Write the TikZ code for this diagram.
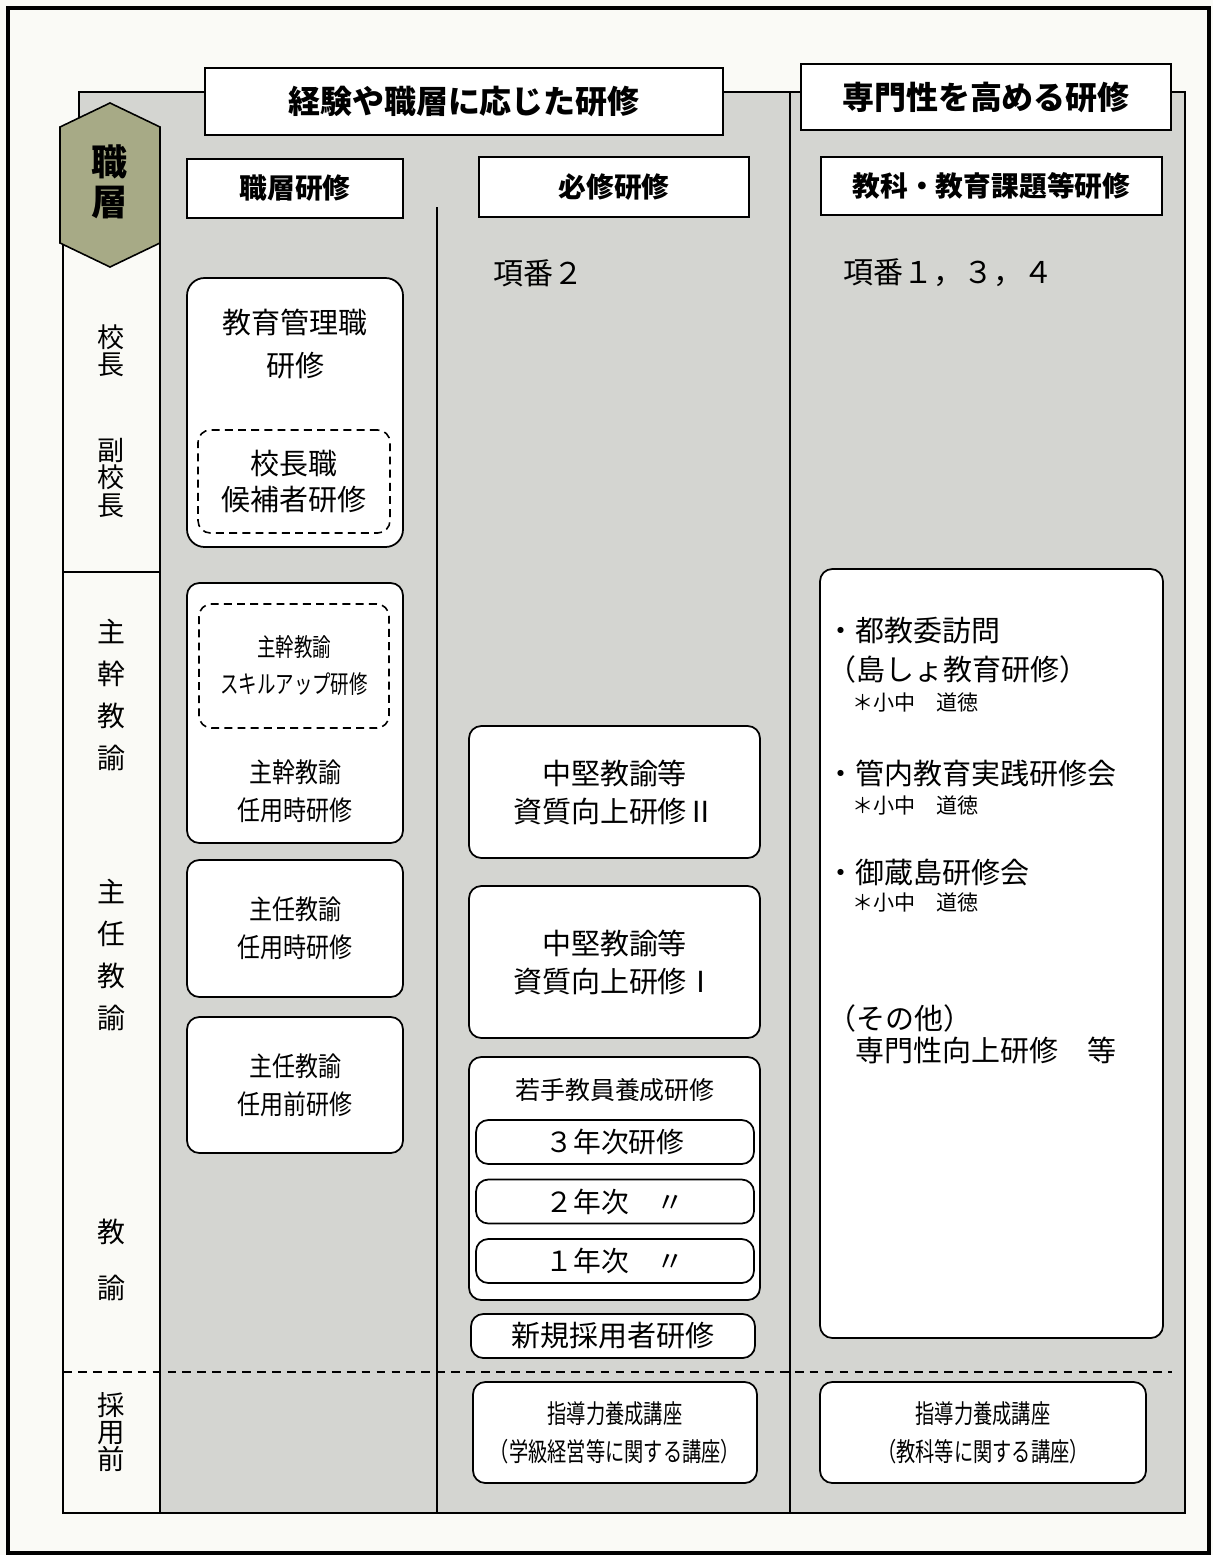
\documentclass[tikz,border=0pt]{standalone}
\usepackage{fontspec}
\setmainfont{Noto Sans CJK JP}
\newfontfamily\condfont[FakeStretch=0.85]{Noto Sans CJK JP}
\newfontfamily\narrowfont[FakeStretch=0.74]{Noto Sans CJK JP}
\usetikzlibrary{positioning}

\newdimen\px \px=0.02cm

\definecolor{paper}{HTML}{FAFAF6}
\definecolor{panel}{HTML}{D4D5D1}
\definecolor{olive}{HTML}{A7AA86}

\tikzset{
  titlebox/.style={draw, fill=white, line width=1.3pt, inner sep=0pt,
    font=\fontsize{18.2pt}{22pt}\bfseries\selectfont},
  headbox/.style={draw, fill=white, line width=1pt, inner sep=0pt,
    font=\fontsize{15.8pt}{19pt}\bfseries\selectfont},
  rbox/.style={draw, fill=white, line width=1pt, rounded corners=7pt, inner sep=0pt, align=center},
  dbox/.style={rbox, dash pattern=on 4.5pt off 3pt, line width=0.9pt},
  boxtext/.style={inner sep=0pt, align=center, font=\fontsize{16.5pt}{21.6pt}\selectfont},
  rank/.style={inner sep=0pt, align=center},
  item/.style={anchor=west, inner sep=0pt, font=\fontsize{16.5pt}{20pt}\selectfont},
  note/.style={anchor=west, inner sep=0pt, font=\fontsize{12pt}{14pt}\selectfont}
}

\begin{document}
\begin{tikzpicture}[x=0.02cm, y=-0.02cm]
    % Paper and frame
    \fill[paper] (0,0) rectangle (1213,1555);
    \useasboundingbox (0,0) rectangle (1213,1555);
    \draw[line width=2.2pt] (8,8) rectangle (1209,1553);

    % Grey panel and rank column
    \draw[fill=panel, line width=1pt] (79,92) rectangle (1185,1513);
    \draw[fill=paper, line width=1pt] (63,243) rectangle (160,1513);
    \draw[line width=1pt] (63,572) -- (160,572);
    \draw[line width=1pt] (437,207) -- (437,1513);
    \draw[line width=1pt] (790,92) -- (790,1513);
    \draw[line width=1pt, dash pattern=on 5pt off 3.5pt] (63,1372) -- (1172,1372);

    % Hexagon
    \draw[fill=olive, line width=0.9pt] (110,103) -- (160,127) -- (160,243) -- (110,267)
        -- (60,243) -- (60,127) -- cycle;
    \node[rank, font=\fontsize{20.5pt}{22.8pt}\bfseries\selectfont] (shokuso) at (110,182) {職\\層};

    % Rank labels
    \node[rank, font=\fontsize{15.4pt}{15.4pt}\selectfont] (kocho) at (111,351) {校\\長};
    \node[rank, font=\fontsize{15.4pt}{15.9pt}\selectfont] (fukukocho) at (111,478) {副\\校\\長};
    \node[rank, font=\fontsize{15.9pt}{23.9pt}\selectfont] (shukan) at (111,695) {主\\幹\\教\\諭};
    \node[rank, font=\fontsize{15.9pt}{23.9pt}\selectfont] (shunin) at (111,955) {主\\任\\教\\諭};
    \node[rank, font=\fontsize{15.9pt}{31.9pt}\selectfont] (kyoyu) at (111,1260) {教\\諭};
    \node[rank, font=\fontsize{15.6pt}{15.6pt}\selectfont] (saiyomae) at (111,1432) {採\\用\\前};

    % Titles
    \node[titlebox, minimum width=518\px, minimum height=67\px] (keiken) at (464,101.5) {経験や職層に応じた研修};
    \node[titlebox, minimum width=370\px, minimum height=66\px] (senmon) at (986,97) {専門性を高める研修};

    % Column heads
    \node[headbox, minimum width=216\px, minimum height=59\px] (shokusoken) at (295,188.5) {職層研修};
    \node[headbox, minimum width=270\px, minimum height=60\px] (hisshu) at (614,187) {必修研修};
    \node[headbox, minimum width=341\px, minimum height=58\px] (kyoka) at (991.5,186) {教科・教育課題等研修};

    % Item numbers
    \node[item, font=\fontsize{17.1pt}{20pt}\selectfont] (kouban2) at (493,273) {項番２};
    \node[item, font=\fontsize{17.1pt}{20pt}\selectfont] (kouban134) at (843,273) {項番１，３，４};

    % Rank training
    \node[rbox, minimum width=216\px, minimum height=269\px, rounded corners=10pt] (kanri) at (295,412.5) {};
    \node[boxtext, font=\fontsize{16.5pt}{24.5pt}\selectfont] (kanritext) at (295,343.5) {教育管理職\\研修};
    \node[dbox, minimum width=192\px, minimum height=103\px, font=\fontsize{16.5pt}{20.5pt}\selectfont] (kouho) at (294,481.5) {校長職\\候補者研修};

    \node[rbox, minimum width=216\px, minimum height=260\px] (shukanbox) at (295,713) {};
    \node[dbox, minimum width=190\px, minimum height=124\px, font=\fontsize{14.2pt}{21pt}\narrowfont] (skill) at (294,666) {主幹教諭\\スキルアップ研修};
    \node[boxtext, font=\fontsize{15.4pt}{21.6pt}\condfont] (shukantext) at (295,791) {主幹教諭\\任用時研修};

    \node[rbox, minimum width=216\px, minimum height=137\px, font=\fontsize{15.4pt}{21.6pt}\condfont] (shunin1) at (295,928.5) {主任教諭\\任用時研修};
    \node[rbox, minimum width=216\px, minimum height=136\px, font=\fontsize{15.4pt}{21.6pt}\condfont] (shunin2) at (295,1085) {主任教諭\\任用前研修};

    % Required training
    \node[rbox, minimum width=291\px, minimum height=132\px, font=\fontsize{16.5pt}{21.6pt}\selectfont] (chuken2) at (614.5,792) {中堅教諭等\\資質向上研修Ⅱ};
    \node[rbox, minimum width=291\px, minimum height=152\px, font=\fontsize{16.5pt}{21.6pt}\selectfont] (chuken1) at (614.5,962) {中堅教諭等\\資質向上研修Ⅰ};
    \node[rbox, minimum width=291\px, minimum height=243\px] (wakate) at (614.5,1178.5) {};
    \node[boxtext, font=\fontsize{14.2pt}{17pt}\selectfont] (wakatetext) at (615,1090) {若手教員養成研修};
    \node[rbox, minimum width=278\px, minimum height=44\px, font=\fontsize{15.8pt}{18pt}\selectfont] (year3) at (615,1142) {３年次研修};
    \node[rbox, minimum width=278\px, minimum height=44\px, font=\fontsize{15.8pt}{18pt}\selectfont] (year2) at (615,1201.5) {２年次　〃};
    \node[rbox, minimum width=278\px, minimum height=44\px, font=\fontsize{15.8pt}{18pt}\selectfont] (year1) at (615,1261) {１年次　〃};
    \node[rbox, minimum width=284\px, minimum height=44\px, font=\fontsize{16.5pt}{18pt}\selectfont] (shinki) at (613,1336) {新規採用者研修};
    \node[rbox, minimum width=284\px, minimum height=101\px, font=\fontsize{14.8pt}{21.6pt}\narrowfont] (shido1) at (615,1432.5) {指導力養成講座\\（学級経営等に関する講座）};

    % Specialist training
    \node[rbox, minimum width=343\px, minimum height=769\px] (senmonbox) at (991.5,953.5) {};
    \node[item] (tokyoi) at (826,631) {・都教委訪問};
    \node[item] (tosho) at (827,669) {（島しょ教育研修）};
    \node[note] (note1) at (852,702) {＊小中　道徳};
    \node[item] (kannai) at (826,773) {・管内教育実践研修会};
    \node[note] (note2) at (852,805) {＊小中　道徳};
    \node[item] (mikura) at (826,872) {・御蔵島研修会};
    \node[note] (note3) at (852,902) {＊小中　道徳};
    \node[item] (sonota) at (827,1018) {（その他）};
    \node[item] (koujo) at (855,1050) {専門性向上研修　等};
    \node[rbox, minimum width=326\px, minimum height=101\px, font=\fontsize{14.8pt}{21.6pt}\narrowfont] (shido2) at (983,1432.5) {指導力養成講座\\（教科等に関する講座）};
\end{tikzpicture}
\end{document}
